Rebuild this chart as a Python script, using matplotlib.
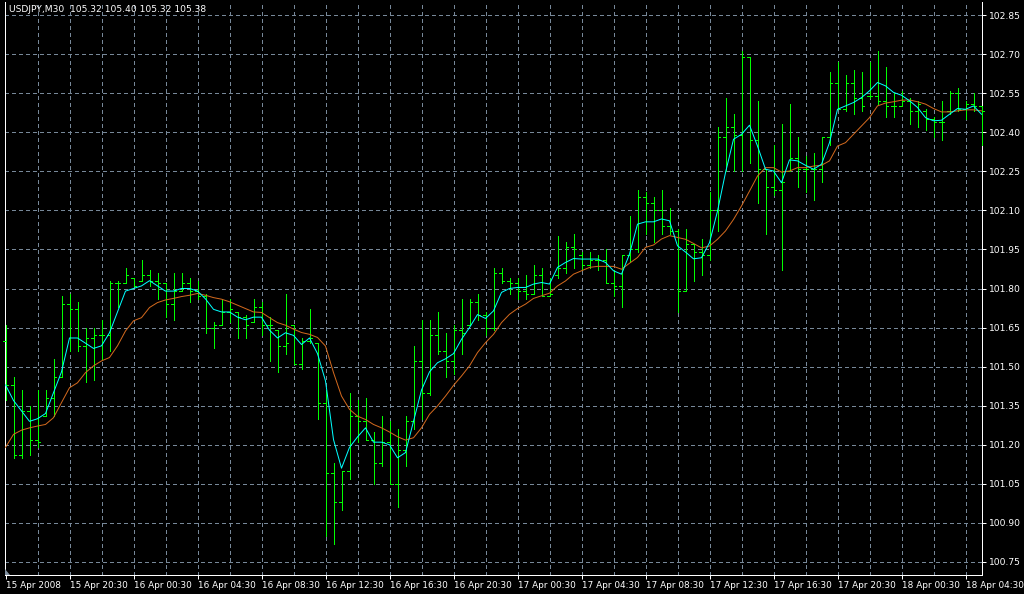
import matplotlib.pyplot as plt
import numpy as np
from matplotlib.patches import Polygon

plt.rcParams['font.family'] = ['DejaVu Sans']

# USDJPY M30 bars (open, high, low, close)
opens = [101.60, 101.43, 101.16, 101.33, 101.22, 101.31, 101.38, 101.46, 101.74, 101.72,
         101.58, 101.61, 101.62, 101.62, 101.82, 101.82, 101.84, 101.83, 101.85, 101.83,
         101.82, 101.74, 101.79, 101.82, 101.79, 101.77, 101.65, 101.66, 101.71, 101.71,
         101.69, 101.67, 101.73, 101.66, 101.64, 101.58, 101.66, 101.51, 101.60, 101.59,
         101.36, 101.09, 100.98, 101.10, 101.31, 101.29, 101.22, 101.13, 101.21, 101.05,
         101.18, 101.29, 101.52, 101.40, 101.62, 101.56, 101.52, 101.64, 101.66, 101.75,
         101.70, 101.65, 101.86, 101.83, 101.82, 101.79, 101.78, 101.85, 101.77, 101.85,
         101.88, 101.96, 101.93, 101.89, 101.91, 101.91, 101.82, 101.81, 101.93, 101.95,
         102.15, 102.13, 102.10, 102.04, 102.02, 101.79, 101.97, 101.94, 101.93, 102.10,
         102.38, 102.42, 102.39, 102.69, 102.37, 102.26, 102.19, 102.18, 102.25, 102.30,
         102.26, 102.26, 102.26, 102.38, 102.59, 102.49, 102.59, 102.53, 102.54, 102.54,
         102.52, 102.50, 102.50, 102.52, 102.48, 102.48, 102.45, 102.44, 102.48, 102.55,
         102.49, 102.51, 102.50]
highs = [101.66, 101.46, 101.41, 101.35, 101.41, 101.41, 101.53, 101.77, 101.78, 101.75,
         101.65, 101.65, 101.68, 101.83, 101.83, 101.88, 101.84, 101.91, 101.87, 101.86,
         101.82, 101.86, 101.86, 101.84, 101.83, 101.78, 101.67, 101.76, 101.76, 101.71,
         101.70, 101.76, 101.75, 101.69, 101.64, 101.78, 101.66, 101.61, 101.72, 101.59,
         101.41, 101.13, 101.10, 101.40, 101.37, 101.38, 101.25, 101.31, 101.29, 101.26,
         101.31, 101.58, 101.68, 101.68, 101.71, 101.63, 101.66, 101.76, 101.76, 101.78,
         101.71, 101.88, 101.88, 101.84, 101.84, 101.85, 101.89, 101.88, 101.84, 102.00,
         101.98, 102.01, 101.94, 101.94, 101.93, 101.95, 101.87, 101.93, 102.08, 102.18,
         102.17, 102.15, 102.18, 102.11, 102.03, 102.03, 101.97, 101.99, 102.17, 102.42,
         102.53, 102.47, 102.71, 102.69, 102.52, 102.26, 102.35, 102.43, 102.51, 102.38,
         102.31, 102.32, 102.38, 102.63, 102.67, 102.62, 102.64, 102.63, 102.67, 102.71,
         102.65, 102.55, 102.56, 102.53, 102.52, 102.49, 102.46, 102.52, 102.56, 102.57,
         102.52, 102.55, 102.50]
lows = [101.37, 101.15, 101.15, 101.16, 101.19, 101.31, 101.31, 101.46, 101.56, 101.56,
        101.44, 101.45, 101.53, 101.56, 101.73, 101.82, 101.81, 101.83, 101.81, 101.76,
        101.69, 101.68, 101.79, 101.75, 101.76, 101.63, 101.57, 101.66, 101.67, 101.61,
        101.61, 101.67, 101.62, 101.52, 101.48, 101.55, 101.51, 101.49, 101.59, 101.30,
        100.85, 100.82, 100.95, 101.07, 101.21, 101.22, 101.05, 101.12, 101.05, 100.96,
        101.12, 101.26, 101.30, 101.39, 101.55, 101.46, 101.47, 101.55, 101.66, 101.68,
        101.62, 101.64, 101.82, 101.78, 101.76, 101.76, 101.78, 101.77, 101.77, 101.84,
        101.86, 101.88, 101.87, 101.88, 101.87, 101.82, 101.77, 101.73, 101.90, 101.94,
        102.01, 101.98, 102.01, 102.01, 101.71, 101.79, 101.83, 101.85, 101.91, 102.02,
        102.25, 102.25, 102.25, 102.28, 102.13, 102.01, 102.16, 101.87, 102.25, 102.19,
        102.17, 102.14, 102.21, 102.35, 102.49, 102.48, 102.47, 102.48, 102.53, 102.51,
        102.46, 102.46, 102.50, 102.43, 102.42, 102.41, 102.38, 102.37, 102.47, 102.48,
        102.45, 102.48, 102.35]
closes = [101.43, 101.16, 101.33, 101.22, 101.21, 101.38, 101.46, 101.74, 101.72, 101.58,
          101.61, 101.62, 101.62, 101.82, 101.82, 101.85, 101.81, 101.85, 101.83, 101.82,
          101.74, 101.79, 101.82, 101.79, 101.77, 101.65, 101.66, 101.71, 101.72, 101.69,
          101.66, 101.73, 101.66, 101.66, 101.58, 101.59, 101.51, 101.60, 101.61, 101.36,
          101.09, 100.98, 101.10, 101.31, 101.29, 101.22, 101.13, 101.21, 101.05, 101.18,
          101.29, 101.52, 101.40, 101.62, 101.56, 101.52, 101.64, 101.63, 101.75, 101.70,
          101.65, 101.86, 101.83, 101.82, 101.79, 101.78, 101.85, 101.77, 101.78, 101.88,
          101.96, 101.95, 101.89, 101.91, 101.91, 101.82, 101.81, 101.93, 101.95, 102.15,
          102.13, 102.10, 102.04, 102.02, 101.79, 101.97, 101.94, 101.93, 102.10, 102.38,
          102.42, 102.39, 102.69, 102.37, 102.26, 102.19, 102.18, 102.21, 102.30, 102.26,
          102.26, 102.26, 102.38, 102.59, 102.49, 102.59, 102.53, 102.50, 102.54, 102.52,
          102.50, 102.50, 102.52, 102.48, 102.51, 102.45, 102.44, 102.44, 102.55, 102.49,
          102.51, 102.50, 102.48]

# moving average lines as drawn on the chart
ma_fast = [101.43, 101.37, 101.33, 101.29, 101.30, 101.32, 101.40, 101.48, 101.61, 101.61,
           101.59, 101.57, 101.58, 101.63, 101.71, 101.79, 101.80, 101.81, 101.83, 101.81,
           101.79, 101.79, 101.80, 101.80, 101.79, 101.76, 101.72, 101.71, 101.71, 101.69,
           101.68, 101.69, 101.69, 101.64, 101.61, 101.63, 101.62, 101.585, 101.61, 101.55,
           101.445, 101.22, 101.11, 101.19, 101.23, 101.265, 101.21, 101.21, 101.20, 101.15,
           101.17, 101.29, 101.41, 101.48, 101.515, 101.53, 101.55, 101.605, 101.65, 101.70,
           101.685, 101.714, 101.785, 101.80, 101.804, 101.804, 101.817, 101.823, 101.817, 101.881,
           101.90, 101.915, 101.913, 101.913, 101.913, 101.90, 101.868, 101.855, 101.932, 102.047,
           102.056, 102.056, 102.067, 102.06, 101.964, 101.94, 101.914, 101.918, 101.976, 102.097,
           102.245, 102.373, 102.392, 102.427, 102.347, 102.258, 102.251, 102.206, 102.294, 102.29,
           102.273, 102.258, 102.277, 102.36, 102.488, 102.501, 102.514, 102.533, 102.559, 102.591,
           102.578, 102.553, 102.542, 102.521, 102.495, 102.456, 102.444, 102.446, 102.469, 102.491,
           102.488, 102.501, 102.469]
ma_slow = [101.19, 101.24, 101.256, 101.265, 101.272, 101.278, 101.304, 101.362, 101.419, 101.438,
           101.477, 101.503, 101.522, 101.535, 101.58, 101.637, 101.676, 101.688, 101.727, 101.746,
           101.756, 101.762, 101.769, 101.774, 101.781, 101.774, 101.765, 101.759, 101.749, 101.736,
           101.723, 101.71, 101.708, 101.688, 101.669, 101.659, 101.644, 101.631, 101.624, 101.612,
           101.579, 101.477, 101.387, 101.336, 101.31, 101.297, 101.278, 101.265, 101.249, 101.231,
           101.218, 101.227, 101.265, 101.317, 101.349, 101.387, 101.428, 101.464, 101.503, 101.554,
           101.592, 101.624, 101.669, 101.701, 101.723, 101.74, 101.762, 101.772, 101.782, 101.81,
           101.829, 101.855, 101.868, 101.881, 101.885, 101.885, 101.885, 101.874, 101.897, 101.919,
           101.958, 101.967, 101.99, 102.003, 101.996, 101.989, 101.973, 101.956, 101.963, 101.989,
           102.021, 102.065, 102.117, 102.174, 102.232, 102.264, 102.264, 102.247, 102.251, 102.264,
           102.264, 102.27, 102.273, 102.29, 102.347, 102.36, 102.392, 102.424, 102.456, 102.501,
           102.512, 102.517, 102.523, 102.524, 102.517, 102.508, 102.491, 102.478, 102.478, 102.482,
           102.486, 102.486, 102.482]

time_labels = ['15 Apr 2008', '15 Apr 20:30', '16 Apr 00:30', '16 Apr 04:30', '16 Apr 08:30',
               '16 Apr 12:30', '16 Apr 16:30', '16 Apr 20:30', '17 Apr 00:30', '17 Apr 04:30',
               '17 Apr 08:30', '17 Apr 12:30', '17 Apr 16:30', '17 Apr 20:30', '18 Apr 00:30',
               '18 Apr 04:30']
price_ticks = [100.75, 100.90, 101.05, 101.20, 101.35, 101.50, 101.65, 101.80,
               101.95, 102.10, 102.25, 102.40, 102.55, 102.70, 102.85]
header = 'USDJPY,M30  105.32 105.40 105.32 105.38'

W, H = 1024, 594
fig = plt.figure(figsize=(W / 100, H / 100), dpi=100, facecolor='black')
ax = fig.add_axes([5 / W, 19 / H, 977 / W, 573 / H])
ax.set_facecolor('black')

x = np.arange(len(closes))
px = 0.72  # one pixel in points
bar_col = '#00ff00'
bar_kw = dict(color=bar_col, lw=px, antialiased=False, snap=True, zorder=3, clip_on=False)
ax.vlines(x, lows, highs, **bar_kw)
ax.hlines(opens, x - 0.3, x, **bar_kw)
ax.hlines(closes, x, x + 0.3, **bar_kw)

ax.plot(x, ma_slow, color='#d2691e', lw=px, zorder=4)
ax.plot(x, ma_fast, color='#00ffff', lw=px, zorder=5)

# 8 px per bar, bar centres on pixel centres
ax.set_xlim(-0.0625, 122.0625)
ax.set_ylim(100.70, 102.90)

# grid: every 4 bars vertically, every price tick horizontally
grid_kw = dict(color='#778899', lw=px, ls=(0, (3, 3)), antialiased=False, zorder=1)
for gx in range(4, len(closes), 4):
    ax.axvline(gx, **grid_kw)
for gy in price_ticks:
    ax.axhline(gy, **grid_kw)

# x axis
ax.set_xticks(np.arange(0, len(closes), 8)[:len(time_labels)])
ax.set_xticklabels(time_labels, ha='left', fontsize=6.4, color='white')
ax.tick_params(axis='x', colors='white', direction='out', length=3, width=px, pad=1.5)

# y axis on the right
ax.yaxis.tick_right()
ax.set_yticks(price_ticks)
ax.set_yticklabels([f'{p:.2f}' for p in price_ticks], fontsize=6.6, color='white')
ax.tick_params(axis='y', colors='white', direction='out', length=3, width=px, pad=2)

for side in ['left', 'right', 'bottom']:
    ax.spines[side].set_color('white')
    ax.spines[side].set_linewidth(px)
ax.spines['top'].set_visible(False)

fig.text(9 / W, 1 - 10 / H, header, color='white', fontsize=6.6, va='center', ha='left')

# small shift marker in the lower left corner
fig.patches.append(Polygon([[5 / W, 19 / H], [10 / W, 19 / H], [5 / W, 25 / H]],
                           closed=True, transform=fig.transFigure,
                           facecolor='#8090a0', edgecolor='none'))

fig.savefig('out.png', dpi=100, facecolor='black')
